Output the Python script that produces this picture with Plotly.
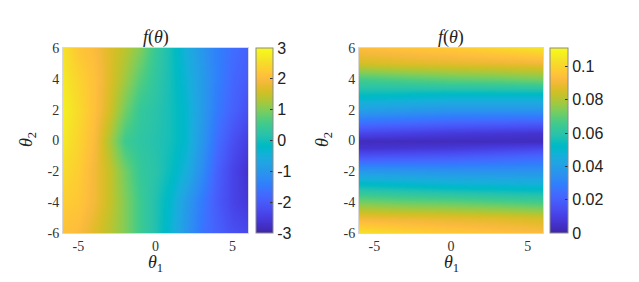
import plotly.graph_objects as go

# ---- data ----
theta1_left = [-6, -5, -4, -3, -2, -1, 0, 1, 2, 3, 4, 5, 6]
theta2_left = [-6, -4, -2, 0, 2, 4, 6]
f_left = [
    [2.1, 2.0, 1.7, 1.4, 1.0, 0.5, 0.1, -0.4, -1.0, -1.6, -1.9, -2.2, -2.3],   # theta2=-6
    [2.3, 2.2, 1.9, 1.5, 1.0, 0.5, 0.1, -0.3, -0.9, -1.5, -2.0, -2.4, -2.6],   # -4
    [2.5, 2.3, 1.9, 1.5, 0.9, 0.4, 0.2, -0.1, -0.5, -1.2, -1.9, -2.4, -2.7],   # -2
    [2.7, 2.4, 2.0, 1.3, 0.5, 0.3, 0.15, 0.0, -0.3, -1.0, -1.7, -2.2, -2.5],   # 0
    [2.8, 2.5, 2.1, 1.6, 0.9, 0.4, 0.2, 0.0, -0.3, -0.9, -1.5, -1.9, -2.2],    # 2
    [2.7, 2.4, 2.1, 1.7, 1.2, 0.7, 0.3, 0.0, -0.4, -0.9, -1.4, -1.8, -2.0],    # 4
    [2.6, 2.2, 2.0, 1.7, 1.4, 1.0, 0.4, 0.0, -0.5, -1.0, -1.4, -1.7, -1.9],    # 6
]

theta1_right = [-6, -3, 0, 3, 6]
theta2_right = [-6, -5, -4, -3, -2, -1, -0.5, 0, 0.5, 1, 2, 3, 4, 5, 6]
f_right = [
    [0.104, 0.100, 0.097, 0.095, 0.093],   # theta2=-6
    [0.090, 0.089, 0.088, 0.087, 0.085],   # -5
    [0.073, 0.071, 0.070, 0.068, 0.066],   # -4
    [0.056, 0.054, 0.052, 0.051, 0.050],   # -3
    [0.038, 0.037, 0.036, 0.036, 0.036],   # -2
    [0.016, 0.017, 0.018, 0.020, 0.022],   # -1
    [0.006, 0.007, 0.008, 0.010, 0.012],   # -0.5
    [0.003, 0.003, 0.003, 0.003, 0.003],   # 0
    [0.012, 0.010, 0.008, 0.007, 0.006],   # 0.5
    [0.022, 0.020, 0.018, 0.017, 0.016],   # 1
    [0.040, 0.038, 0.036, 0.036, 0.036],   # 2
    [0.054, 0.053, 0.052, 0.052, 0.052],   # 3
    [0.066, 0.068, 0.070, 0.071, 0.073],   # 4
    [0.085, 0.087, 0.088, 0.089, 0.090],   # 5
    [0.093, 0.095, 0.097, 0.100, 0.104],   # 6
]

x_tickvals = [-5, 0, 5]
x_ticktext = ["-5", "0", "5"]
y_tickvals = [-6, -4, -2, 0, 2, 4, 6]
y_ticktext = ["-6", "-4", "-2", "0", "2", "4", "6"]
cb_left_vals = [-3, -2, -1, 0, 1, 2, 3]
cb_left_text = ["-3", "-2", "-1", "0", "1", "2", "3"]
cb_right_vals = [0, 0.02, 0.04, 0.06, 0.08, 0.1]
cb_right_text = ["0", "0.02", "0.04", "0.06", "0.08", "0.1"]

# ---- parula colormap ----
parula = [
    (0.2422, 0.1504, 0.6603), (0.2504, 0.1650, 0.7076), (0.2578, 0.1818, 0.7511), (0.2647, 0.1978, 0.7952),
    (0.2706, 0.2147, 0.8364), (0.2751, 0.2342, 0.8710), (0.2783, 0.2559, 0.8991), (0.2803, 0.2782, 0.9221),
    (0.2813, 0.3006, 0.9414), (0.2810, 0.3228, 0.9579), (0.2795, 0.3447, 0.9717), (0.2760, 0.3667, 0.9829),
    (0.2699, 0.3892, 0.9906), (0.2602, 0.4123, 0.9952), (0.2440, 0.4358, 0.9988), (0.2206, 0.4603, 0.9973),
    (0.1963, 0.4847, 0.9892), (0.1834, 0.5074, 0.9798), (0.1786, 0.5289, 0.9682), (0.1764, 0.5499, 0.9520),
    (0.1687, 0.5703, 0.9359), (0.1540, 0.5902, 0.9218), (0.1460, 0.6091, 0.9079), (0.1380, 0.6276, 0.8973),
    (0.1248, 0.6459, 0.8883), (0.1113, 0.6635, 0.8763), (0.0952, 0.6798, 0.8598), (0.0689, 0.6948, 0.8394),
    (0.0297, 0.7082, 0.8163), (0.0036, 0.7203, 0.7917), (0.0067, 0.7312, 0.7660), (0.0433, 0.7411, 0.7394),
    (0.0964, 0.7500, 0.7120), (0.1408, 0.7584, 0.6842), (0.1717, 0.7670, 0.6554), (0.1938, 0.7758, 0.6251),
    (0.2161, 0.7843, 0.5923), (0.2470, 0.7918, 0.5567), (0.2906, 0.7973, 0.5188), (0.3406, 0.8008, 0.4789),
    (0.3909, 0.8029, 0.4354), (0.4456, 0.8024, 0.3909), (0.5044, 0.7993, 0.3480), (0.5616, 0.7942, 0.3045),
    (0.6174, 0.7876, 0.2612), (0.6720, 0.7793, 0.2227), (0.7242, 0.7698, 0.1910), (0.7738, 0.7598, 0.1646),
    (0.8203, 0.7498, 0.1535), (0.8634, 0.7406, 0.1596), (0.9035, 0.7330, 0.1774), (0.9393, 0.7288, 0.2100),
    (0.9728, 0.7298, 0.2394), (0.9956, 0.7434, 0.2371), (0.9970, 0.7659, 0.2199), (0.9952, 0.7893, 0.2028),
    (0.9892, 0.8136, 0.1885), (0.9786, 0.8386, 0.1766), (0.9676, 0.8639, 0.1643), (0.9610, 0.8890, 0.1537),
    (0.9597, 0.9135, 0.1423), (0.9628, 0.9373, 0.1265), (0.9691, 0.9606, 0.1064), (0.9769, 0.9839, 0.0805),
]
n = len(parula)
colorscale = [[i / (n - 1), "rgb(%d,%d,%d)" % tuple(round(c * 255) for c in col)] for i, col in enumerate(parula)]

# page body has an 8px default margin: size the figure to fill the rest of the window
OFF = 8
W, H = 639 - OFF, 282 - OFF
serif = "Liberation Serif, Times New Roman, serif"
sans = "Liberation Sans, Arial, Helvetica, sans-serif"

def px_x(p):
    return (p - OFF) / W

def px_y(p):
    return 1 - (p - OFF) / H

top, bot = 48, 233
fig = go.Figure()

def cbar(x0, thick, vals, text):
    return dict(
        x=px_x(x0), xanchor="left", y=(px_y(top) + px_y(bot)) / 2, yanchor="middle",
        len=bot - top, lenmode="pixels", thickness=thick, thicknessmode="pixels",
        outlinecolor="#8a8a8a", outlinewidth=1, ticks="inside", ticklen=3, tickcolor="#333333",
        tickvals=vals, ticktext=text, xpad=0, ypad=0,
        tickfont=dict(family=sans, size=16, color="#222222"),
    )

fig.add_trace(go.Heatmap(
    x=theta1_left, y=theta2_left, z=f_left, zsmooth="best",
    colorscale=colorscale, zmin=-3, zmax=3, xaxis="x", yaxis="y",
    colorbar=cbar(256, 17, cb_left_vals, cb_left_text),
))
fig.add_trace(go.Heatmap(
    x=theta1_right, y=theta2_right, z=f_right, zsmooth="best",
    colorscale=colorscale, zmin=0, zmax=0.111, xaxis="x2", yaxis="y2",
    colorbar=cbar(550, 18, cb_right_vals, cb_right_text),
))

axis_common = dict(
    showgrid=False, zeroline=False, showline=True, linecolor="#d8d8d8", linewidth=1, mirror=True,
    ticks="", automargin=False, tickfont=dict(family=serif, size=14, color="#333333"),
)

fig.update_layout(
    template="none",
    width=W, height=H, margin=dict(l=0, r=0, t=0, b=0, autoexpand=False),
    paper_bgcolor="white", plot_bgcolor="white", showlegend=False,
    xaxis=dict(domain=[px_x(63), px_x(248)], range=[-6, 6], anchor="y",
               tickvals=x_tickvals, ticktext=x_ticktext, **axis_common),
    yaxis=dict(domain=[px_y(bot), px_y(top)], range=[-6, 6], anchor="x",
               tickvals=y_tickvals, ticktext=y_ticktext, **axis_common),
    xaxis2=dict(domain=[px_x(359), px_x(543)], range=[-6, 6], anchor="y2",
                tickvals=x_tickvals, ticktext=x_ticktext, **axis_common),
    yaxis2=dict(domain=[px_y(bot), px_y(top)], range=[-6, 6], anchor="x2",
                tickvals=y_tickvals, ticktext=y_ticktext, **axis_common),
)

ann_font = dict(family=serif, size=18, color="#222222")
for cx, ylab_x in [((63 + 248) / 2, 27), ((359 + 543) / 2, 323)]:
    fig.add_annotation(text="<i>f</i>(<i>θ</i>)", x=px_x(cx), y=px_y(37), xref="paper", yref="paper",
                       showarrow=False, font=ann_font, xanchor="center", yanchor="middle")
    fig.add_annotation(text="<i>θ</i><sub>1</sub>", x=px_x(cx), y=px_y(263), xref="paper", yref="paper",
                       showarrow=False, font=ann_font, xanchor="center", yanchor="middle")
    fig.add_annotation(text="<i>θ</i><sub>2</sub>", x=px_x(ylab_x), y=px_y(140), xref="paper", yref="paper",
                       showarrow=False, font=ann_font, xanchor="center", yanchor="middle", textangle=-90)

fig.write_html("out.html")
